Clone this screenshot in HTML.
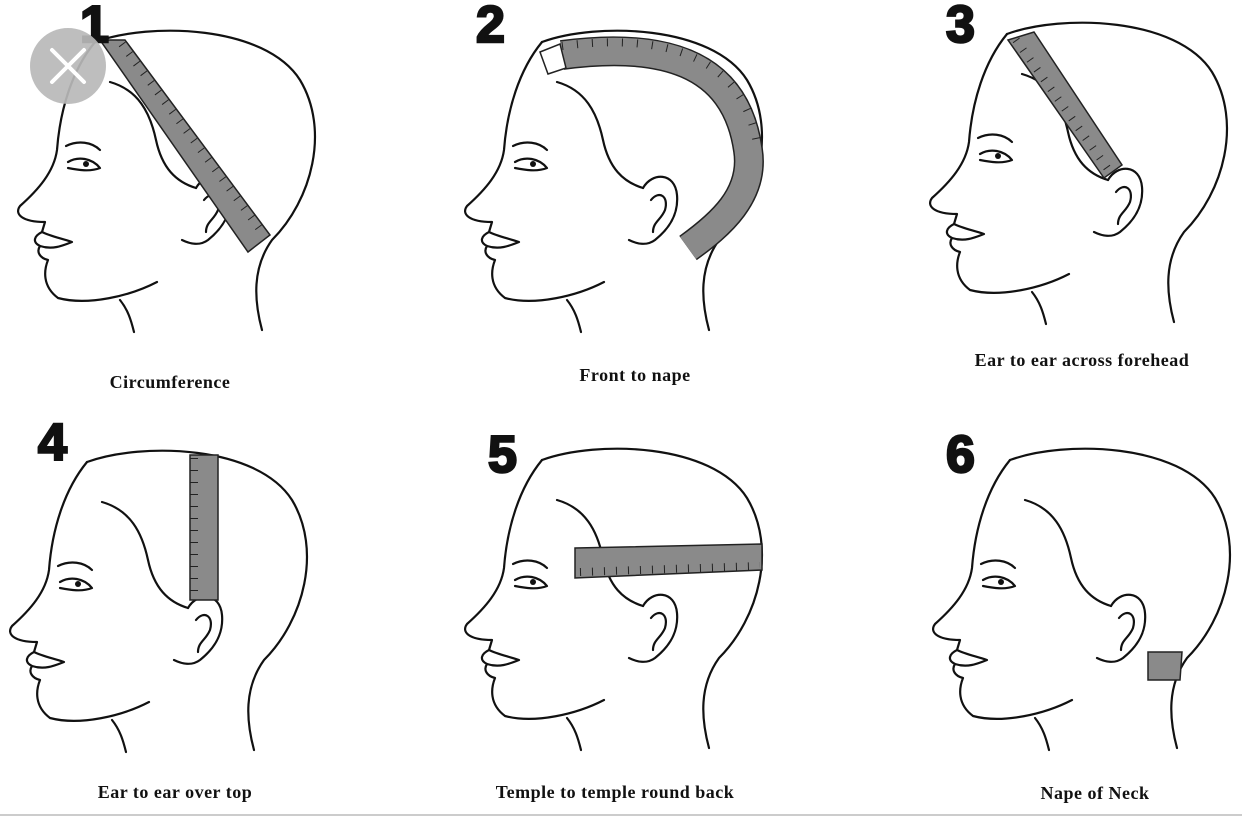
<!DOCTYPE html>
<html><head><meta charset="utf-8"><style>
html,body{margin:0;padding:0;background:#fff;}
svg{display:block}
.num{font-family:"Liberation Sans",sans-serif;font-weight:bold;font-size:52px;fill:#111;stroke:#111;stroke-width:2.5}
.lbl{font-family:"Liberation Serif",serif;font-weight:bold;font-size:18px;fill:#111;text-anchor:middle;letter-spacing:0.5px}
.h{fill:none;stroke:#111;stroke-width:2.2;stroke-linecap:round;stroke-linejoin:round}
.tape{fill:#8a8a8a;stroke:#222;stroke-width:1.5}
.tick{fill:none;stroke:#222;stroke-width:8;stroke-dasharray:1 11}
</style></head><body>
<svg width="1242" height="818" viewBox="0 0 1242 818">
<defs>
<g id="head">
  <path class="h" d="M95,42 C150,22 265,25 300,80 C330,130 312,200 272,240 C252,268 254,300 262,330"/>
  <path class="h" d="M95,42 C72,70 60,110 57,150 C54,172 38,190 20,206 C14,214 22,222 45,222 L42,232"/>
  <path class="h" d="M42,232 C34,236 32,242 40,246 C52,250 62,246 72,242 C60,238 50,236 42,232"/>
  <path class="h" d="M40,246 C36,252 40,258 48,260 C44,270 42,286 58,298 C88,306 130,296 157,282"/>
  <path class="h" d="M120,300 C128,310 131,320 134,332"/>
  <path class="h" d="M110,82 C138,90 150,112 156,140 C162,168 176,182 196,188"/>
  <path class="h" d="M196,188 C205,172 228,172 230,195 C232,218 218,232 208,240 C200,246 190,244 182,240"/>
  <path class="h" d="M204,200 C212,190 222,196 218,210 C214,220 206,222 206,232"/>
  <path class="h" d="M68,162 C78,156 92,158 100,168 C90,172 78,170 68,168"/>
  <path class="h" d="M66,146 C78,140 92,142 100,150"/>
  <circle cx="86" cy="164" r="3" fill="#111"/>
</g>
</defs>

<use href="#head" x="0" y="0"/>
<use href="#head" x="447" y="0"/>
<use href="#head" x="912" y="-8"/>
<use href="#head" x="-8" y="420"/>
<use href="#head" x="447" y="418"/>
<use href="#head" x="915" y="418"/>

<polygon class="tape" points="100,40 125,40 270,235 248,252"/>
<line class="tick" x1="122" y1="44" x2="262" y2="232"/>
<path d="M562,55 C660,42 735,60 748,150 C755,195 720,225 688,248" fill="none" stroke="#222" stroke-width="30"/>
<path d="M562,55 C660,42 735,60 748,150 C755,195 720,225 688,248" fill="none" stroke="#8a8a8a" stroke-width="27"/>
<path d="M562,46 C660,33 745,52 758,150" fill="none" stroke="#222" stroke-width="8" stroke-dasharray="1 14"/>
<polygon points="540,52 560,44 566,68 548,74" fill="#fff" stroke="#222" stroke-width="1.5"/>
<polygon class="tape" points="1008,40 1034,32 1122,165 1104,178"/>
<line class="tick" x1="1016" y1="40" x2="1110" y2="172"/>
<rect class="tape" x="190" y="455" width="28" height="145"/>
<line class="tick" x1="194" y1="458" x2="194" y2="598"/>
<polygon class="tape" points="575,548 762,544 762,570 575,578"/>
<line class="tick" x1="580" y1="572" x2="760" y2="566"/>
<polygon class="tape" points="1148,652 1182,652 1180,680 1148,680"/>

<text class="num" x="80" y="42">1</text>
<text class="num" x="476" y="42">2</text>
<text class="num" x="946" y="42">3</text>
<text class="num" x="38" y="460">4</text>
<text class="num" x="488" y="472">5</text>
<text class="num" x="946" y="472">6</text>

<circle cx="68" cy="66" r="38" fill="#b8b8b8" fill-opacity="0.92"/>
<path d="M52,50 L84,82 M84,50 L52,82" stroke="#fff" stroke-width="4" stroke-linecap="round"/>

<text class="lbl" x="170" y="388">Circumference</text>
<text class="lbl" x="635" y="381">Front to nape</text>
<text class="lbl" x="1082" y="366">Ear to ear across forehead</text>
<text class="lbl" x="175" y="798">Ear to ear over top</text>
<text class="lbl" x="615" y="798">Temple to temple round back</text>
<text class="lbl" x="1095" y="799">Nape of Neck</text>

<line x1="0" y1="815" x2="1242" y2="815" stroke="#ccc" stroke-width="2"/>
</svg>
</body></html>
